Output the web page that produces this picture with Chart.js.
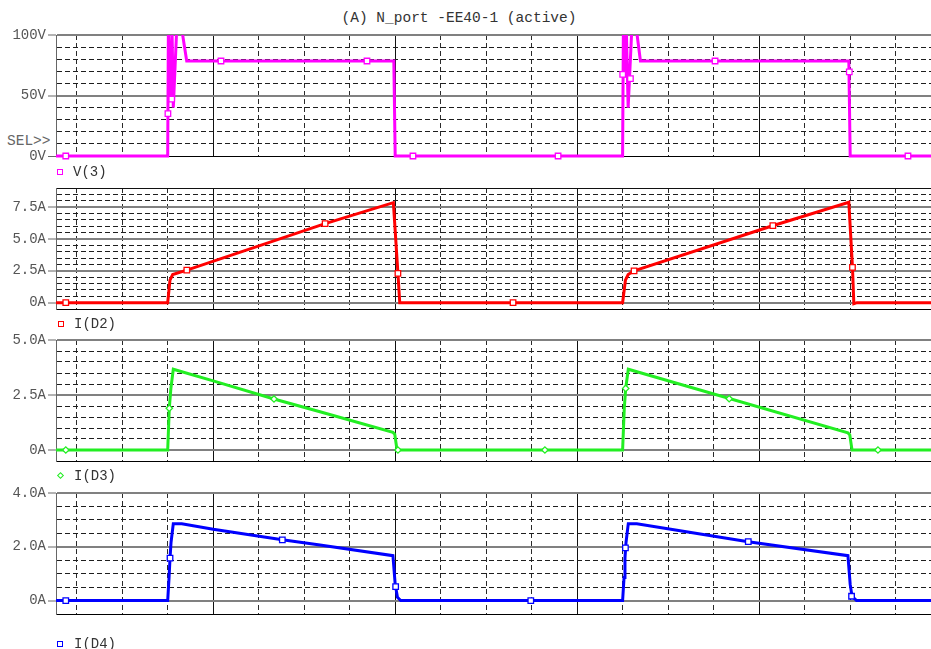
<!DOCTYPE html>
<html><head><meta charset="utf-8">
<script src="https://cdn.jsdelivr.net/npm/chart.js@4.4.0/dist/chart.umd.min.js"></script>
<style>
html,body{margin:0;padding:0;background:#fff;overflow:hidden;width:931px;height:649px;}
canvas{position:absolute;left:0;}
.txt{position:absolute;font-family:'Liberation Mono','Courier New',monospace;font-size:14px;line-height:16px;white-space:pre;color:#333;}
.mk{position:absolute;width:6px;height:6px;border:1.5px solid;box-sizing:border-box;background:#fff;}
</style></head><body>
<div class="txt" style="left:459px;top:10px;transform:translateX(-50%);font-size:14.5px;">(A) N_port -EE40-1 (active)</div>
<div class="txt" style="left:7px;top:133px;font-size:14.5px;color:#666;">SEL&gt;&gt;</div>

<canvas id="p1" width="931" height="139" style="top:23px"></canvas>
<canvas id="p2" width="931" height="139" style="top:176px"></canvas>
<canvas id="p3" width="931" height="139" style="top:328px"></canvas>
<canvas id="p4" width="931" height="139" style="top:481px"></canvas>

<span class="mk" style="left:57px;top:169px;border-color:#ff00ff"></span>
<div class="txt" style="left:73px;top:164px;">V(3)</div>
<span class="mk" style="left:58px;top:321px;border-color:#ff0000"></span>
<div class="txt" style="left:74px;top:316px;">I(D2)</div>
<span class="mk" style="left:58px;top:473px;width:5px;height:5px;border-color:#22ee22;transform:rotate(45deg)"></span>
<div class="txt" style="left:74px;top:468px;">I(D3)</div>
<span class="mk" style="left:57px;top:641px;border-color:#0000ff"></span>
<div class="txt" style="left:74px;top:636px;">I(D4)</div>

<script>
// ---- time axis (grid units, 1 minor division = 1) ----
const timeMin = -3.455, timeMax = 15.776;

// ---- V(3) ----
const v3Time  = [-3.455, -1.0, -0.985, -0.927, -0.905, -0.877, -0.802, -0.692, -0.582, 3.97, 4.0, 8.998, 9.015, 9.05, 9.08, 9.12, 9.2, 9.3, 9.39, 13.97, 14.0, 15.776];
const v3Volts = [0, 0, 105, 47, 105, 40, 105, 105, 78.5, 78.5, 0, 0, 105, 65, 105, 40, 105, 105, 78.5, 78.5, 0, 0];
const v3MarkTime  = [-3.24, -0.995, -0.912, 0.171, 3.38, 4.39, 7.58, 9.0, 9.17, 11.03, 13.98, 15.27];
const v3MarkVolts = [0, 35, 47, 78.5, 78.5, 0, 0, 67.5, 64, 78.5, 69.6, 0];
const v3TickVals = [0, 50, 100];
const v3TickLabels = ['0V', '50V', '100V'];

// ---- I(D2) ----
const d2Time = [-3.455, -1.0, -0.95, -0.89, -0.58, 2.46, 3.96, 4.06, 4.1, 8.998, 9.06, 9.12, 9.25, 12.26, 13.97, 14.05, 14.08, 14.15, 15.776];
const d2Amps = [0, 0, 1.76, 2.2, 2.55, 6.2, 7.85, 2.3, 0, 0, 1.76, 2.2, 2.5, 6.0, 7.88, 2.77, -0.08, 0, 0];
const d2MarkTime = [-3.24, -0.58, 2.46, 4.06, 6.59, 9.25, 12.3, 14.05];
const d2MarkAmps = [0, 2.55, 6.2, 2.3, 0, 2.5, 6.04, 2.77];
const d2TickVals = [0, 2.5, 5.0, 7.5];
const d2TickLabels = ['0A', '2.5A', '5.0A', '7.5A'];

// ---- I(D3) ----
const d3Time = [-3.455, -1.0, -0.965, -0.93, -0.877, 0.0, 1.336, 2.347, 3.95, 3.99, 4.04, 8.998, 9.035, 9.066, 9.123, 13.95, 13.99, 14.04, 15.776];
const d3Amps = [0, 0, 1.9, 2.8, 3.67, 3.14, 2.32, 1.74, 0.8, 0.72, 0, 0, 1.9, 2.8, 3.67, 0.78, 0.7, 0, 0];
const d3MarkTime = [-3.24, -0.965, 1.336, 4.06, 7.29, 9.066, 11.34, 14.61];
const d3MarkAmps = [0, 1.9, 2.32, 0, 0, 2.8, 2.33, 0];
const d3TickVals = [0, 2.5, 5.0];
const d3TickLabels = ['0A', '2.5A', '5.0A'];

// ---- I(D4) ----
const d4Time = [-3.455, -1.0, -0.97, -0.949, -0.927, -0.877, -0.69, 0.0, 1.519, 2.347, 3.95, 4.0, 4.05, 4.12, 8.998, 9.03, 9.05, 9.073, 9.123, 9.31, 11.76, 13.95, 14.0, 14.04, 14.14, 15.776];
const d4Amps = [0, 0, 0.86, 1.58, 2.16, 2.86, 2.86, 2.65, 2.26, 2.07, 1.67, 0.6, 0.12, 0, 0, 0.86, 1.58, 2.16, 2.86, 2.86, 2.19, 1.67, 0.6, 0.16, 0, 0];
const d4MarkTime = [-3.24, -0.949, 1.519, 4.01, 6.98, 9.06, 11.76, 14.03];
const d4MarkAmps = [0, 1.58, 2.26, 0.52, 0, 1.96, 2.19, 0.16];
const d4TickVals = [0, 2.0, 4.0];
const d4TickLabels = ['0A', '2.0A', '4.0A'];

function isMul(v, m) { const r = v / m; return Math.abs(r - Math.round(r)) < 1e-6; }
const FONT = 'Liberation Mono';

function makePanel(id, p) {
  const isMajor = v => isMul(v, p.major);
  const isBound = v => Math.abs(v - p.min) < 1e-6 || Math.abs(v - p.max) < 1e-6;
  return new Chart(document.getElementById(id), {
    type: 'line',
    data: {
      datasets: [
        {
          data: p.mx.map((x, i) => ({x: x, y: p.my[i]})),
          showLine: false,
          pointStyle: p.marker,
          pointRadius: p.marker === 'rect' ? 3.9 : 3.2,
          pointBorderWidth: 1.3,
          pointBorderColor: p.color,
          pointBackgroundColor: '#ffffff',
          clip: {left: 0, top: 0, right: 0, bottom: 5},
          order: 1
        },
        {
          data: p.xs.map((x, i) => ({x: x, y: p.ys[i]})),
          borderColor: p.color,
          borderWidth: 3,
          pointRadius: 0,
          tension: 0,
          clip: {left: 0, top: 0, right: 0, bottom: 3},
          order: 2
        }
      ]
    },
    options: {
      responsive: false,
      animation: false,
      devicePixelRatio: 1,
      layout: {autoPadding: false, padding: {top: 12, bottom: 6, left: 0, right: 0}},
      plugins: {legend: {display: false}, tooltip: {enabled: false}},
      scales: {
        x: {
          type: 'linear',
          min: timeMin,
          max: timeMax,
          ticks: {display: false, stepSize: 1, includeBounds: false},
          grid: {
            drawTicks: false,
            color: c => isMul(c.tick.value, 4) ? '#111' : '#2a2a2a',
            lineWidth: 1
          },
          border: {
            display: true, color: '#000', width: 1,
            dash: c => (c.tick && !isMul(c.tick.value, 4)) ? [5, 3] : []
          },
          afterFit: s => { s.height = 0; }
        },
        y: {
          type: 'linear',
          min: p.min,
          max: p.max,
          ticks: {
            stepSize: p.step,
            autoSkip: false,
            padding: 2,
            color: '#555',
            font: {family: FONT, size: 14},
            callback: v => {
              const i = p.tickVals.findIndex(t => Math.abs(t - v) < 1e-6);
              return i >= 0 ? p.tickLabels[i] : '';
            }
          },
          grid: {
            drawTicks: true,
            tickLength: 8,
            tickWidth: 1,
            tickColor: c => isMajor(c.tick.value) ? '#666' : 'rgba(0,0,0,0)',
            color: c => isMajor(c.tick.value) ? '#808080' : (isBound(c.tick.value) ? '#111' : '#1e1e1e'),
            lineWidth: c => (isMajor(c.tick.value) && !(Math.abs(c.tick.value - p.min) < 1e-6)) ? 2 : 1
          },
          border: {
            display: true, color: '#666', width: 1,
            dash: c => (c.tick && !isMajor(c.tick.value) && !isBound(c.tick.value)) ? [5, 3] : []
          },
          afterFit: s => { s.width = 56; s.paddingTop = 0; s.paddingBottom = 0; }
        }
      }
    }
  });
}

makePanel('p1', {xs: v3Time, ys: v3Volts, mx: v3MarkTime, my: v3MarkVolts, color: '#ff00ff', marker: 'rect',
  min: 0, max: 100, step: 10, major: 50, tickVals: v3TickVals, tickLabels: v3TickLabels});
makePanel('p2', {xs: d2Time, ys: d2Amps, mx: d2MarkTime, my: d2MarkAmps, color: '#ff0000', marker: 'rect',
  min: -0.5, max: 9.0, step: 0.5, major: 2.5, tickVals: d2TickVals, tickLabels: d2TickLabels});
makePanel('p3', {xs: d3Time, ys: d3Amps, mx: d3MarkTime, my: d3MarkAmps, color: '#22ee22', marker: 'rectRot',
  min: -0.5, max: 5.0, step: 0.5, major: 2.5, tickVals: d3TickVals, tickLabels: d3TickLabels});
makePanel('p4', {xs: d4Time, ys: d4Amps, mx: d4MarkTime, my: d4MarkAmps, color: '#0000ff', marker: 'rect',
  min: -0.5, max: 4.0, step: 0.5, major: 2.0, tickVals: d4TickVals, tickLabels: d4TickLabels});
</script>
</body></html>
